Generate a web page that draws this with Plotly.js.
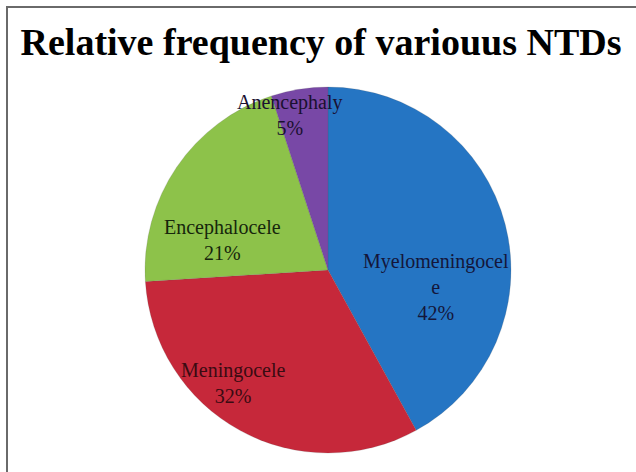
<!DOCTYPE html>
<html>
<head>
<meta charset="utf-8">
<script src="https://cdn.plot.ly/plotly-3.0.1.min.js"></script>
<style>
  html, body { margin: 0; padding: 0; background: #fff; }
  #wrap { position: relative; width: 636px; height: 472px; overflow: hidden; }
  #chart { position: absolute; left: 0; top: 0; width: 636px; height: 472px; }
  #frame { position: absolute; left: 6px; top: 6px; width: 700px; height: 600px;
           border-left: 2px solid #6a6a6a; border-top: 2px solid #6a6a6a; pointer-events: none; }
</style>
</head>
<body>
<div id="wrap">
  <div id="chart"></div>
  <div id="frame"></div>
</div>
<script>
// ---- data ----
const categories = ["Myelomeningocele", "Meningocele", "Encephalocele", "Anencephaly"];
const percents = [42, 32, 21, 5];
const displayNames = ["Myelomeningocel<br>e", "Meningocele", "Encephalocele", "Anencephaly"];
const sliceColors = ["#2575c3", "#c6283a", "#8dc24a", "#7848a6"];
const chartTitle = "Relative frequency of variouus NTDs";

// ---- layout helpers ----
const W = 636, H = 472;
const cx = 328, cy = 270, R = 183;
const px = (x, y) => ({ x: x / W, y: 1 - y / H });

// label anchor points (pixel coords) for each slice's data label
const labelAnchors = [[436, 287], [234, 383], [222, 240], [290, 115]];
const labelColors = ["#14163a", "#3a0b12", "#16260c", "#1a1030"];

const annotations = categories.map((c, i) => {
  const p = px(labelAnchors[i][0], labelAnchors[i][1]);
  return {
    xref: "paper", yref: "paper", x: p.x, y: p.y,
    xanchor: "center", yanchor: "middle", showarrow: false,
    text: displayNames[i] + "<br>" + percents[i] + "%",
    font: { family: "Liberation Serif, Times New Roman, serif", size: 20, color: labelColors[i] },
    align: "center"
  };
});

const trace = {
  type: "pie",
  labels: categories,
  values: percents,
  sort: false,
  direction: "clockwise",
  rotation: 0,
  marker: { colors: sliceColors, line: { color: "rgba(80,80,80,0.35)", width: 0.5 } },
  textinfo: "none",
  hoverinfo: "label+percent",
  showlegend: false,
  domain: { x: [(cx - R) / W, (cx + R) / W], y: [1 - (cy + R) / H, 1 - (cy - R) / H] }
};

const layout = {
  width: W, height: H,
  margin: { l: 0, r: 0, t: 0, b: 0 },
  paper_bgcolor: "#ffffff",
  showlegend: false,
  title: {
    text: "<b>" + chartTitle + "</b>",
    font: { family: "Liberation Serif, Times New Roman, serif", size: 38, color: "#000000" },
    x: 321 / W, xanchor: "center",
    y: 1 - 42 / H, yanchor: "middle", xref: "paper", yref: "container"
  },
  annotations: annotations
};

Plotly.newPlot("chart", [trace], layout, { displayModeBar: false, staticPlot: true });
</script>
</body>
</html>
